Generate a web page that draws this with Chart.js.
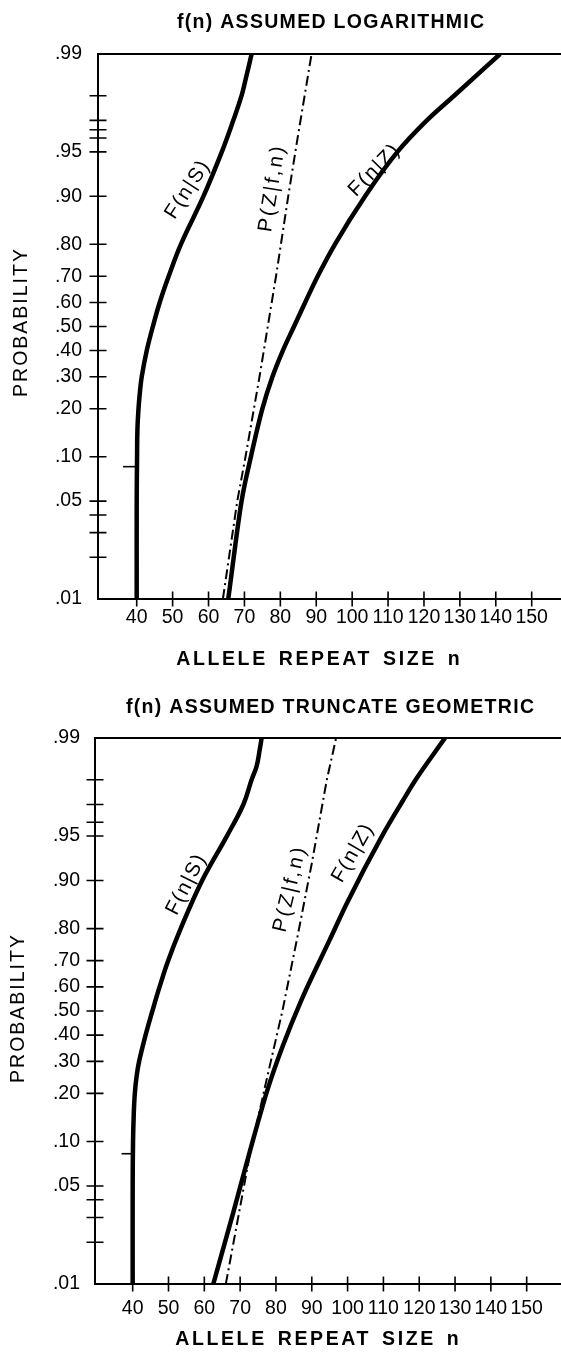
<!DOCTYPE html>
<html><head><meta charset="utf-8">
<script src="https://cdn.jsdelivr.net/npm/chart.js@4.4.1/dist/chart.umd.min.js"></script>
<style>
html,body{margin:0;padding:0;background:#fff;overflow:hidden;}
canvas{display:block;}
</style></head>
<body>
<canvas id="topChart" width="561" height="680"></canvas>
<canvas id="bottomChart" width="561" height="673"></canvas>
<script>
// ---------- texts ----------
const panelTitles = ['f(n) ASSUMED LOGARITHMIC', 'f(n) ASSUMED TRUNCATE GEOMETRIC'];
const xAxisTitle = 'ALLELE REPEAT SIZE n';
const yAxisTitle = 'PROBABILITY';
const curveNames = ['F(n|S)', 'P(Z|f,n)', 'F(n|Z)'];

// ---------- axes ----------
const yTickProbs  = [0.01, 0.05, 0.10, 0.20, 0.30, 0.40, 0.50, 0.60, 0.70, 0.80, 0.90, 0.95, 0.99];
const yTickLabels = ['.01', '.05', '.10', '.20', '.30', '.40', '.50', '.60', '.70', '.80', '.90', '.95', '.99'];
const yMinorTopProbs    = [0.02, 0.03, 0.04, 0.96, 0.965, 0.97, 0.98];
const yMinorBottomProbs = [0.02, 0.03, 0.04, 0.96, 0.97, 0.98];
const xTickValues = [40, 50, 60, 70, 80, 90, 100, 110, 120, 130, 140, 150];

// ---------- top panel: f(n) logarithmic ----------
const logFnS_p = [0.01, 0.05, 0.10, 0.15, 0.20, 0.25, 0.30, 0.40, 0.50, 0.60, 0.70, 0.80, 0.90, 0.95, 0.97, 0.98, 0.985, 0.99];
const logFnS_n = [40.0, 40.0, 40.1, 40.2, 40.5, 40.9, 41.4, 42.8, 44.5, 46.4, 48.9, 52.3, 58.6, 63.7, 66.9, 69.2, 70.4, 72.0];
const logPZ_p  = [0.01, 0.05, 0.10, 0.30, 0.50, 0.70, 0.90, 0.96, 0.99];
const logPZ_n  = [64.0, 68.0, 70.3, 74.2, 76.5, 78.8, 82.2, 84.8, 88.7];
const logFnZ_p = [0.01, 0.05, 0.10, 0.20, 0.30, 0.40, 0.50, 0.60, 0.70, 0.80, 0.90, 0.95, 0.97, 0.98, 0.99];
const logFnZ_n = [65.5, 69.2, 71.8, 75.0, 77.8, 80.7, 83.8, 86.9, 90.4, 95.2, 103.6, 112.6, 120.8, 128.4, 141.2];
const logMark_p = [0.086, 0.086];
const logMark_n = [36.2, 40.0];

// ---------- bottom panel: f(n) truncate geometric ----------
const geoFnS_p = [0.01, 0.05, 0.10, 0.15, 0.20, 0.25, 0.30, 0.40, 0.50, 0.60, 0.70, 0.80, 0.90, 0.95, 0.97, 0.98, 0.984, 0.988, 0.99];
const geoFnS_n = [40.0, 40.0, 40.1, 40.3, 40.6, 41.1, 41.8, 43.6, 45.5, 47.5, 49.9, 53.4, 59.4, 66.3, 70.9, 73.2, 74.6, 75.5, 76.0];
const geoPZ_p  = [0.01, 0.084, 0.24, 0.50, 0.777, 0.923, 0.98, 0.99];
const geoPZ_n  = [66.0, 72.8, 77.4, 81.8, 86.0, 90.0, 94.2, 96.8];
const geoFnZ_p = [0.01, 0.032, 0.084, 0.209, 0.357, 0.546, 0.768, 0.86, 0.95, 0.972, 0.98, 0.99];
const geoFnZ_n = [62.5, 68.0, 72.6, 77.6, 81.9, 87.1, 95.0, 99.8, 109.6, 115.5, 119.0, 127.2];
const geoMark_p = [0.083, 0.083];
const geoMark_n = [36.9, 40.0];

// ---------- helpers ----------
const FONT = '"Liberation Sans", Arial, Helvetica, sans-serif';
const logit = p => Math.log(p / (1 - p));
const pts = (ns, ps) => ns.map((n, i) => ({ x: n, y: logit(ps[i]) }));

function drawText(ctx, text, x, y, font, spacing, angleDeg, wordSpacing) {
  ctx.save();
  ctx.font = font;
  try { ctx.letterSpacing = spacing + 'px'; } catch (e) {}
  if (wordSpacing) { try { ctx.wordSpacing = wordSpacing + 'px'; } catch (e) {} }
  ctx.translate(x, y);
  if (angleDeg) ctx.rotate(-angleDeg * Math.PI / 180);
  ctx.textAlign = 'center';
  ctx.textBaseline = 'middle';
  ctx.fillStyle = '#000';
  ctx.fillText(text, spacing / 2, 0);
  ctx.restore();
}

const decor = {
  id: 'decor',
  afterDraw(chart, args, o) {
    const ctx = chart.ctx, ca = chart.chartArea;
    const xs = chart.scales.x, ys = chart.scales.y;
    ctx.save();
    ctx.strokeStyle = '#000';
    // top frame line
    ctx.lineWidth = 2;
    ctx.beginPath();
    ctx.moveTo(ca.left - 1, ca.top);
    ctx.lineTo(ca.right, ca.top);
    ctx.stroke();
    // crossing tick marks
    ctx.lineWidth = 1.6;
    ctx.beginPath();
    xs.ticks.forEach(t => {
      const px = xs.getPixelForValue(t.value);
      ctx.moveTo(px, ca.bottom - 7.5); ctx.lineTo(px, ca.bottom + 7.5);
    });
    ys.ticks.forEach((t, i) => {
      if (i === 0 || i === ys.ticks.length - 1) return;
      const py = ys.getPixelForValue(t.value);
      ctx.moveTo(ca.left - 8.5, py); ctx.lineTo(ca.left + 8.5, py);
    });
    o.minor.forEach(p => {
      const py = ys.getPixelForValue(logit(p));
      ctx.moveTo(ca.left - 8.5, py); ctx.lineTo(ca.left + 8.5, py);
    });
    ctx.stroke();
    ctx.restore();

    // titles
    drawText(ctx, o.title, o.titleX, o.titleY, 'bold 19.5px ' + FONT, 1.3, 0);
    drawText(ctx, xAxisTitle, o.xTitleX, o.xTitleY, 'bold 19.5px ' + FONT, 2.6, 0, 3);
    drawText(ctx, yAxisTitle, o.yTitleX, o.yTitleY, '19.5px ' + FONT, 2, 90);
    // curve labels
    o.labels.forEach(l => {
      const px = xs.getPixelForValue(l.n), py = ys.getPixelForValue(logit(l.p));
      drawText(ctx, l.text, px, py, '20.5px ' + FONT, l.sp, l.angle);
    });
  }
};

function makeChart(id, g, sets) {
  const solid = (d) => ({ data: d, borderColor: '#000', borderWidth: 4.5, pointRadius: 0, tension: 0.4, fill: false, borderCapStyle: 'butt' });
  const smooth = (d) => ({ data: d, borderColor: '#000', borderWidth: 4.5, pointRadius: 0, cubicInterpolationMode: 'monotone', fill: false, borderCapStyle: 'butt' });
  const dashed = (d) => ({ data: d, borderColor: '#000', borderWidth: 2, pointRadius: 0, tension: 0, fill: false, borderDash: [10, 4, 2, 4] });
  const thin = (d) => ({ data: d, borderColor: '#000', borderWidth: 1.6, pointRadius: 0, tension: 0, fill: false });
  return new Chart(document.getElementById(id), {
    type: 'line',
    data: { datasets: [solid(sets.fnS), dashed(sets.pz), smooth(sets.fnZ), thin(sets.mark)] },
    options: {
      responsive: false, animation: false, events: [],
      layout: { padding: { top: g.areaTop, left: 0, right: 0, bottom: 0 } },
      plugins: {
        legend: { display: false }, tooltip: { enabled: false }, title: { display: false },
        decor: g.decor
      },
      scales: {
        x: {
          type: 'linear', position: 'bottom', min: g.xMin, max: g.xMax,
          grid: { display: false, drawTicks: false },
          border: { display: true, color: '#000', width: 2 },
          afterBuildTicks: s => { s.ticks = xTickValues.map(v => ({ value: v })); },
          afterFit: s => { s.height = g.canvasH - g.areaBottom; s.paddingLeft = 0; s.paddingRight = 0; },
          ticks: { autoSkip: false, maxRotation: 0, padding: g.xTickPad, color: '#000',
                   font: { family: FONT, size: 19.5 }, callback: v => String(v) }
        },
        y: {
          type: 'linear', position: 'left', min: logit(yTickProbs[0]), max: logit(yTickProbs[yTickProbs.length - 1]),
          grid: { display: false, drawTicks: false },
          border: { display: true, color: '#000', width: 2 },
          afterBuildTicks: s => { s.ticks = yTickProbs.map(p => ({ value: logit(p) })); },
          afterFit: s => { s.width = g.left; },
          ticks: { autoSkip: false, padding: g.yTickPad, color: '#000',
                   font: { family: FONT, size: 19.5 }, callback: (v, i) => yTickLabels[i] }
        }
      }
    },
    plugins: [decor]
  });
}

makeChart('topChart', {
  xMin: 29.22, xMax: 158.16, left: 98, areaTop: 54, areaBottom: 599, canvasH: 680,
  xTickPad: 7.3, yTickPad: 16,
  decor: {
    title: panelTitles[0], titleX: 330.5, titleY: 23,
    xTitleX: 318, xTitleY: 660, yTitleX: 22, yTitleY: 323,
    minor: yMinorTopProbs,
    labels: [
      { text: curveNames[0], n: 54.1, p: 0.909, angle: 57, sp: 1.6 },
      { text: curveNames[1], n: 77.7, p: 0.910, angle: 81, sp: 2.6 },
      { text: curveNames[2], n: 106.1, p: 0.9325, angle: 46, sp: 1.6 }
    ]
  }
}, {
  fnS: pts(logFnS_n, logFnS_p), pz: pts(logPZ_n, logPZ_p), fnZ: pts(logFnZ_n, logFnZ_p), mark: pts(logMark_n, logMark_p)
});

makeChart('bottomChart', {
  xMin: 29.48, xMax: 159.58, left: 95, areaTop: 58, areaBottom: 604, canvasH: 673,
  xTickPad: 13.3, yTickPad: 15,
  decor: {
    title: panelTitles[1], titleX: 330, titleY: 28,
    xTitleX: 317, xTitleY: 660, yTitleX: 19, yTitleY: 329,
    minor: yMinorBottomProbs,
    labels: [
      { text: curveNames[0], n: 54.9, p: 0.893, angle: 63, sp: 1.6 },
      { text: curveNames[1], n: 83.9, p: 0.8845, angle: 76.5, sp: 2.6 },
      { text: curveNames[2], n: 101.4, p: 0.934, angle: 60, sp: 1.6 }
    ]
  }
}, {
  fnS: pts(geoFnS_n, geoFnS_p), pz: pts(geoPZ_n, geoPZ_p), fnZ: pts(geoFnZ_n, geoFnZ_p), mark: pts(geoMark_n, geoMark_p)
});
</script>
</body></html>
